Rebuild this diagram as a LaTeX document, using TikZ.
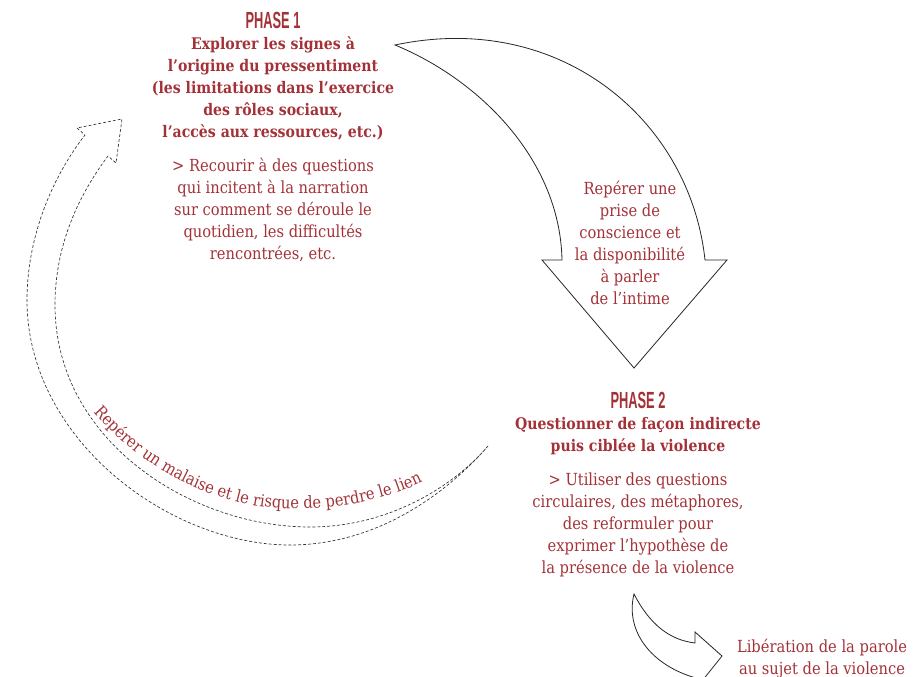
\documentclass[tikz,border=0pt]{standalone}
\usepackage{fontspec}
\setmainfont{DejaVu Serif}[FakeStretch=0.88]
\newfontfamily\phasefont{Liberation Sans}[FakeStretch=0.55]
\usepackage{tikz}
\usetikzlibrary{positioning,decorations.text}
\definecolor{phasered}{RGB}{163,50,56}

\begin{document}
\begin{tikzpicture}[x=0.75pt,y=-0.75pt,semithick]
  \tikzstyle{phase}=[text=phasered,font=\phasefont\bfseries\fontsize{17.5}{20}\selectfont,inner sep=0pt]
  \tikzstyle{phasetitle}=[text=phasered,font=\bfseries\fontsize{12}{16.5}\selectfont,align=center,inner sep=0pt]
  \tikzstyle{phasebody}=[text=phasered,font=\fontsize{12.5}{16.5}\selectfont,align=center,inner sep=0pt]
  \tikzstyle{bigarrow}=[draw=black!85,line width=0.6pt,fill=white]
  \tikzstyle{backarrow}=[draw=black!80,line width=0.5pt,dash pattern=on 2.2pt off 1.5pt]

  \clip (0,0) rectangle (913,677);

  % phase 1
  \node[phase]                          (P1) at (273,20) {PHASE 1};
  \node[phasetitle,below=6pt of P1]     (T1) {Explorer les signes à\\l’origine du pressentiment\\(les limitations dans l’exercice\\des rôles sociaux,\\l’accès aux ressources, etc.)};
  \node[phasebody,below=13pt of T1]     (B1) {> Recourir à des questions\\qui incitent à la narration\\sur comment se déroule le\\quotidien, les difficultés\\rencontrées, etc.};

  % phase 2
  \node[phase]                          (P2) at (638,400) {PHASE 2};
  \node[phasetitle,below=6pt of P2]     (T2) {Questionner de façon indirecte\\puis ciblée la violence};
  \node[phasebody,below=13pt of T2]     (B2) {> Utiliser des questions\\circulaires, des métaphores,\\des reformuler pour\\exprimer l’hypothèse de\\la présence de la violence};

  % arrow 1 -> 2
  \coordinate (tail1) at (395,45);
  \coordinate (tip1)  at (634,368);
  \path[bigarrow] (tail1) .. controls (560,10) and (690,120) .. (705,260) -- (727,260) -- (tip1)
        -- (542,260) -- (562,260) .. controls (560,160) and (480,80) .. (tail1) -- cycle;
  \node[phasebody] (R1) at (630,243) {Repérer une\\prise de\\conscience et\\la disponibilité\\à parler\\de l’intime};

  % arrow 2 -> 1 (dashed)
  \coordinate (tail2) at (488,446);
  \coordinate (tip2)  at (122,119);
  \path[backarrow] (tail2) .. controls (450,490) and (380,545) .. (290,545)
        .. controls (170,545) and (27,440) .. (27,300)
        .. controls (27,240) and (50,180) .. (85,135) -- (77,128) -- (tip2) -- (116,163) -- (108,156)
        .. controls (75,200) and (55,250) .. (55,305)
        .. controls (55,440) and (190,527) .. (310,527)
        .. controls (390,527) and (455,485) .. (tail2) -- cycle;
  \path[decorate,decoration={text along path,text align=center,
        text={|\color{phasered}\fontsize{12.5}{15}\selectfont|Repérer un malaise et le risque de perdre le lien}}]
        (88,406) .. controls (150,480) and (230,510) .. (300,509) .. controls (350,508) and (400,495) .. (430,478);

  % way out
  \coordinate (tail3) at (634,594);
  \coordinate (tip3)  at (722,656);
  \path[bigarrow] (tail3) .. controls (650,625) and (670,640) .. (695,643) -- (695,632) -- (tip3)
        -- (698,686) -- (696,678) .. controls (650,665) and (625,630) .. (tail3) -- cycle;
  \node[phasebody] (L) at (822,659) {Libération de la parole\\au sujet de la violence};
\end{tikzpicture}
\end{document}
